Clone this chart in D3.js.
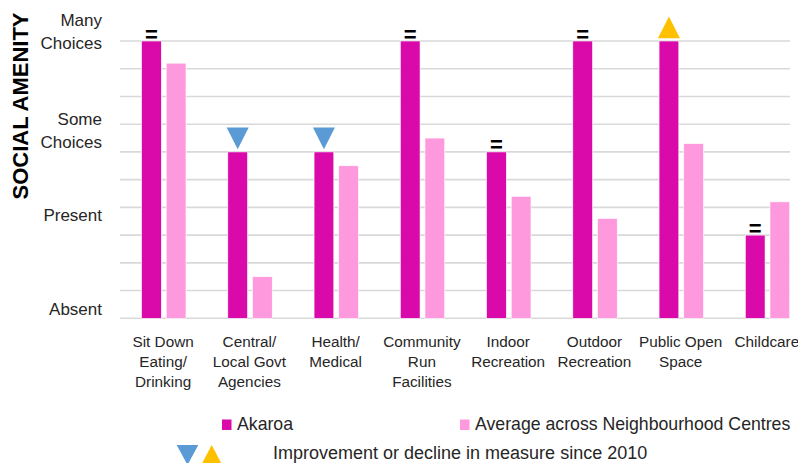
<!DOCTYPE html>
<html><head><meta charset="utf-8">
<script src="https://cdn.jsdelivr.net/npm/d3@7"></script>
<style>body{margin:0;background:#fff} svg{display:block}</style>
</head><body><svg id="c" width="798" height="463"></svg>
<script>
const categories = [["Sit Down","Eating/","Drinking"],["Central/","Local Govt","Agencies"],["Health/","Medical"],["Community","Run","Facilities"],["Indoor","Recreation"],["Outdoor","Recreation"],["Public Open","Space"],["Childcare"]];
const akaroa  = [10, 6, 6, 10, 6, 10, 10, 3];
const average = [9.2, 1.5, 5.5, 6.5, 4.4, 3.6, 6.3, 4.2];
const changes = ["=", "down", "down", "=", "=", "=", "up", "="];
const yTickValues = [0,1,2,3,4,5,6,7,8,9,10];
const yLabels = [["Many","Choices"],["Some","Choices"],["Present"],["Absent"]];
const yLabelValues = [10.36, 6.77, 3.71, 0.35];
const seriesNames = ["Akaroa", "Average across Neighbourhood Centres"];
const axisTitle = "SOCIAL AMENITY";
const legendNote = "Improvement or decline in measure since 2010";

const colors = {akaroa:"#D90AA9", average:"#FF99DD", down:"#5B9BD5", up:"#FFC000", grid:"#D9D9D9", text:"#262626"};
const font = "'Liberation Sans', Arial, sans-serif";

const svg = d3.select("#c");
const keys = categories.map(c => c.join(" "));
const x = d3.scaleBand().domain(keys).range([120, 810]).paddingInner(0).paddingOuter(0);
const bw = x.bandwidth();
const x1 = d3.scaleBand().domain(["akaroa","average"]).range([bw*0.25, bw*0.765]).paddingInner(0.2);
const y = d3.scaleLinear().domain([0, 10]).range([318.3, 41]);

// gridlines
svg.append("g").selectAll("line").data(yTickValues).join("line")
  .attr("x1", 120).attr("x2", 790)
  .attr("y1", d => y(d)).attr("y2", d => y(d))
  .attr("stroke", colors.grid).attr("stroke-width", 1.6);

// bars
const rows = keys.map((k, i) => ({k, i, akaroa: akaroa[i], average: average[i], change: changes[i]}));
const g = svg.append("g");
["akaroa","average"].forEach(s => {
  g.selectAll("rect." + s).data(rows).join("rect").attr("class", s)
    .attr("x", d => x(d.k) + x1(s)).attr("width", x1.bandwidth())
    .attr("y", d => y(d[s])).attr("height", d => y(0) - y(d[s]))
    .attr("fill", colors[s]).attr("stroke", "#fff").attr("stroke-width", 0.6);
});

// change markers
rows.forEach(d => {
  const cx = x(d.k) + x1("akaroa") + x1.bandwidth()/2;
  const top = y(d.akaroa);
  if (d.change === "=") {
    svg.append("text").attr("x", cx).attr("y", top + 0.5).attr("text-anchor", "middle")
      .attr("font-family", font).attr("font-weight", "bold").attr("font-size", 22)
      .attr("fill", "#000").text("=");
  } else if (d.change === "down") {
    const t = top - 24.4;
    svg.append("path").attr("d", `M${cx-11},${t}L${cx+11},${t}L${cx},${t+21.7}Z`).attr("fill", colors.down);
  } else if (d.change === "up") {
    const b = top - 2.7;
    svg.append("path").attr("d", `M${cx-11},${b}L${cx+11},${b}L${cx},${b-21.7}Z`).attr("fill", colors.up);
  }
});

// y labels
yLabels.forEach((lines, i) => {
  const c = y(yLabelValues[i]);
  const lh = 23;
  const first = c - (lines.length - 1) * lh / 2 + 6;
  const t = svg.append("text").attr("text-anchor", "end").attr("font-family", font)
    .attr("font-size", 17).attr("fill", colors.text);
  lines.forEach((l, j) => t.append("tspan").attr("x", 102).attr("y", first + j * lh).text(l));
});

// axis title
svg.append("text").attr("transform", "translate(28,106) rotate(-90)")
  .attr("text-anchor", "middle").attr("font-family", font).attr("font-weight", "bold")
  .attr("font-size", 22).attr("fill", "#000").text(axisTitle);

// category labels
categories.forEach((lines, i) => {
  const cx = x(keys[i]) + bw / 2;
  const t = svg.append("text").attr("text-anchor", "middle").attr("font-family", font)
    .attr("font-size", 15.3).attr("fill", colors.text);
  lines.forEach((l, j) => t.append("tspan").attr("x", cx).attr("y", 346.5 + j * 20).text(l));
});

// legend
const leg = svg.append("g").attr("font-family", font).attr("font-size", 17.7).attr("fill", colors.text);
leg.append("rect").attr("x", 222).attr("y", 419.5).attr("width", 9.5).attr("height", 10.5).attr("fill", colors.akaroa);
leg.append("text").attr("x", 237).attr("y", 430).text(seriesNames[0]);
leg.append("rect").attr("x", 460).attr("y", 419.5).attr("width", 9.5).attr("height", 10.5).attr("fill", colors.average);
leg.append("text").attr("x", 475).attr("y", 430).text(seriesNames[1]);
leg.append("path").attr("d", "M176.7,445L198.3,445L187.5,465Z").attr("fill", colors.down);
leg.append("path").attr("d", "M201.2,465L222.2,465L211.7,445Z").attr("fill", colors.up);
leg.append("text").attr("x", 273).attr("y", 458.5).attr("font-size", 18).text(legendNote);
</script></body></html>
